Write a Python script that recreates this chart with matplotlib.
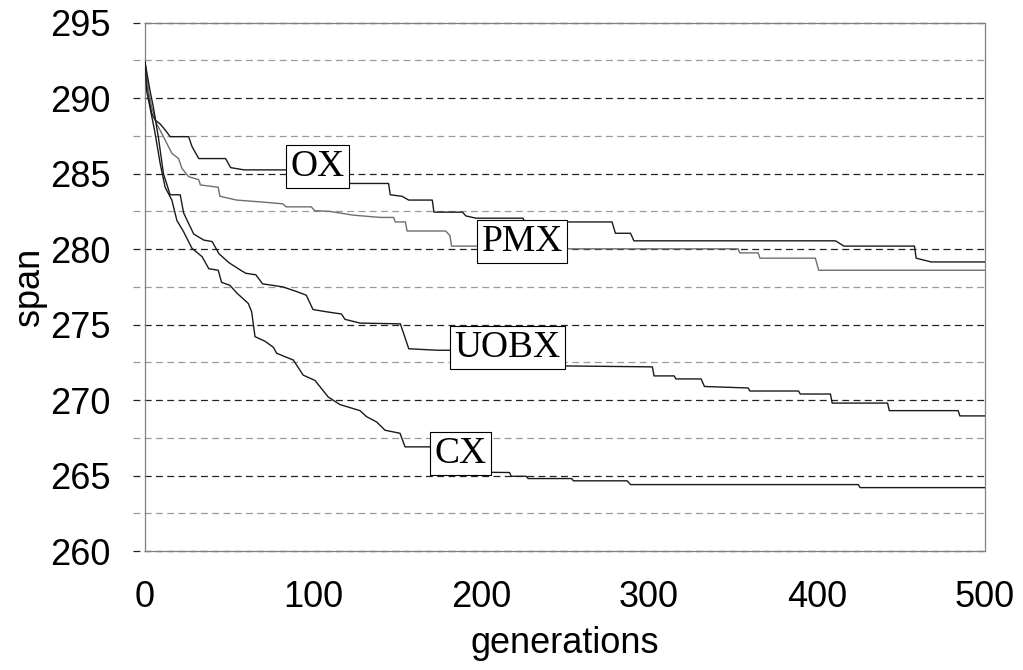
import numpy as np
import matplotlib.pyplot as plt

# data (generation, best span)
ox_gen = [0, 2, 4, 6, 9, 12, 15, 26, 28, 32, 48, 51, 59, 100, 101, 145, 146, 153, 157,
          171, 172, 189, 191, 197, 225, 226, 278, 280, 289, 291, 411, 416, 458, 459, 468, 500]
ox_span = [292.4, 290.3, 289.0, 288.55, 288.3, 287.9, 287.45, 287.45, 286.8, 286.0, 286.0,
           285.4, 285.25, 285.25, 284.35, 284.35, 283.6, 283.5, 283.25, 283.25, 282.45,
           282.45, 282.2, 282.05, 282.05, 281.8, 281.8, 281.05, 281.05, 280.55, 280.55,
           280.2, 280.2, 279.4, 279.15, 279.15]

pmx_gen = [0, 2, 4, 7, 11, 16, 20, 22, 26, 32, 33, 43.6, 44.6, 54.6, 72, 82, 84, 99, 101,
           110, 124, 140, 148, 149, 155, 156, 179, 181.5, 182.5, 220, 221, 353, 354, 365,
           366, 399, 401, 500]
pmx_span = [292.4, 290.5, 289.4, 288.3, 287.45, 286.35, 286.0, 285.35, 284.8, 284.6, 284.25,
            284.1, 283.5, 283.25, 283.1, 283.0, 282.8, 282.8, 282.55, 282.5, 282.25, 282.1,
            282.1, 281.8, 281.8, 281.2, 281.2, 280.9, 280.2, 280.2, 280.02, 280.02, 279.75,
            279.75, 279.4, 279.4, 278.6, 278.6]

uobx_gen = [0, 3, 5, 8, 11, 15, 21, 23, 29, 35, 40, 44, 50, 57, 60, 66, 70, 82, 90, 96, 100,
            108, 117, 119, 128, 152, 154, 157, 174, 215, 216, 302, 303, 315, 316, 331, 333,
            359, 360, 389, 390, 408, 409, 442, 443, 484, 485, 500]
uobx_span = [292.4, 290.5, 289.4, 287.4, 285.0, 283.6, 283.6, 282.4, 281.0, 280.6, 280.5,
             279.7, 279.1, 278.6, 278.4, 278.3, 277.7, 277.5, 277.2, 276.95, 276.0, 275.85,
             275.7, 275.35, 275.1, 275.05, 274.4, 273.4, 273.3, 273.3, 272.3, 272.2, 271.6,
             271.6, 271.4, 271.4, 270.9, 270.8, 270.6, 270.6, 270.4, 270.4, 269.8, 269.8,
             269.3, 269.3, 268.95, 268.95]

cx_gen = [0, 1, 6, 9, 12, 16, 19, 23, 28, 34, 38, 43.6, 45.6, 50.6, 54.6, 61.5, 63.5, 65.5,
          71.4, 76.4, 78.4, 88.3, 94.2, 101.2, 109.1, 116.1, 128, 131.9, 137.9, 142.9, 151.8,
          154.8, 175, 176, 217, 218, 227, 228, 254, 255, 287, 289, 424.6, 425.6, 500]
cx_span = [292.4, 290.5, 287.7, 285.7, 284.1, 283.25, 281.9, 281.15, 280.05, 279.5, 278.7,
           278.6, 277.8, 277.6, 277.1, 276.4, 275.85, 274.2, 273.9, 273.5, 273.1, 272.65,
           271.65, 271.3, 270.2, 269.7, 269.3, 268.9, 268.55, 268.0, 267.8, 266.9, 266.9,
           265.25, 265.2, 264.95, 264.95, 264.8, 264.8, 264.65, 264.65, 264.4, 264.4, 264.2,
           264.2]

labels = ['OX', 'PMX', 'UOBX', 'CX']
label_gen = [102.9, 224.5, 215.8, 187.7]
label_span = [285.48, 280.49, 273.48, 266.47]

fig = plt.figure(figsize=(10.23, 6.70), dpi=100)
ax = fig.add_axes([0.1417, 0.1776, 0.8212, 0.7885])

# dashed grid: dark at multiples of 5, light in between
major = np.arange(260, 296, 5)
minor = np.arange(262.5, 295, 5)
ax.hlines(major, -7, 500, colors='#222222', linestyles=(0, (5.5, 3.5)), linewidth=0.9,
          clip_on=False, zorder=1)
ax.hlines(minor, -7, 500, colors='#9a9a9a', linestyles=(0, (5.5, 3.5)), linewidth=0.9,
          clip_on=False, zorder=1)

ax.plot(ox_gen, ox_span, color='#1a1a1a', lw=1.0, zorder=3)
ax.plot(pmx_gen, pmx_span, color='#6e6e6e', lw=1.0, zorder=3)
ax.plot(uobx_gen, uobx_span, color='#1a1a1a', lw=1.0, zorder=3)
ax.plot(cx_gen, cx_span, color='#1a1a1a', lw=1.0, zorder=3)

for t, gx, sy in zip(labels, label_gen, label_span):
    ax.text(gx, sy, t, ha='center', va='center', fontsize=27, family='Liberation Serif',
            zorder=5, bbox=dict(boxstyle='square,pad=0.12', fc='white', ec='black', lw=0.8))

ax.set_xlim(0, 500)
ax.set_ylim(260, 295)
ax.set_xticks([0, 100, 200, 300, 400, 500])
ax.set_yticks(major)
for s in ax.spines.values():
    s.set_color('#808080')
    s.set_linewidth(0.9)
ax.tick_params(axis='both', length=0, labelsize=26)
ax.tick_params(axis='y', pad=25)
ax.tick_params(axis='x', pad=21)
for lab in ax.get_xticklabels() + ax.get_yticklabels():
    lab.set_family('Liberation Sans')
ax.set_xlabel('generations', fontsize=26, family='Liberation Sans', labelpad=8)
ax.set_ylabel('span', fontsize=26, family='Liberation Sans', labelpad=2)

fig.savefig('out.png', dpi=100)
